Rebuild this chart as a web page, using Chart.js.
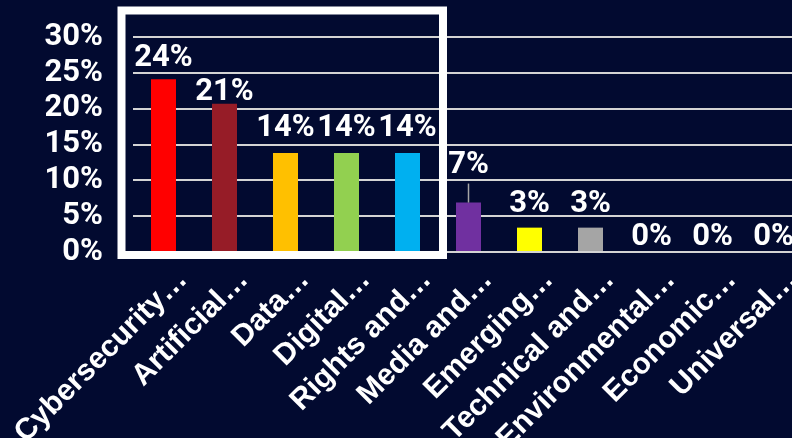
<!DOCTYPE html>
<html>
<head>
<meta charset="utf-8">
<script src="https://cdn.jsdelivr.net/npm/chart.js@4.4.1/dist/chart.umd.min.js"></script>
<style>
  html, body { margin: 0; padding: 0; background: #020a30; overflow: hidden; }
  #wrap { width: 804px; height: 438px; }
</style>
</head>
<body>
<div id="wrap"><canvas id="topicChart" width="804" height="438"></canvas></div>
<script>
// Share of items per topic, in percent.
const topics = [
  'Cybersecurity…', 'Artificial…', 'Data…', 'Digital…', 'Rights and…',
  'Media and…', 'Emerging…', 'Technical and…', 'Environmental…',
  'Economic…', 'Universal…'
];
const shares = [24.1, 20.7, 13.8, 13.8, 13.8, 6.9, 3.4, 3.4, 0, 0, 0];
const barColors = [
  '#ff0000', '#961c27', '#ffc000', '#92d050', '#00b0f0',
  '#7030a0', '#ffff00', '#a5a5a5', '#a5a5a5', '#a5a5a5', '#a5a5a5'
];
const yTickValues = [0, 5, 10, 15, 20, 25, 30];

// Percent labels above the bars, some lifted higher to stay clear of each other.
const valueLabels = {
  id: 'valueLabels',
  afterDatasetsDraw(chart, args, opts) {
    const ctx = chart.ctx;
    const meta = chart.getDatasetMeta(0);
    ctx.save();
    ctx.font = 'bold 31px Roboto';
    ctx.fillStyle = '#ffffff';
    ctx.textAlign = 'center';
    ctx.textBaseline = 'alphabetic';
    meta.data.forEach((bar, i) => {
      const y = bar.y - opts.gaps[i];
      ctx.fillText(Math.round(shares[i]) + '%', bar.x, y);
      if (opts.leaders.includes(i)) {
        ctx.strokeStyle = '#a6a6a6';
        ctx.lineWidth = 1.5;
        ctx.beginPath();
        ctx.moveTo(bar.x, y + 11);
        ctx.lineTo(bar.x, bar.y);
        ctx.stroke();
      }
    });
    ctx.restore();
  }
};

// Slanted topic names under the bars.
const topicLabels = {
  id: 'topicLabels',
  afterDraw(chart, args, opts) {
    const { ctx, scales: { x } } = chart;
    ctx.save();
    ctx.font = 'bold 30px "Liberation Sans"';
    ctx.fillStyle = '#ffffff';
    ctx.textAlign = 'right';
    ctx.textBaseline = 'middle';
    topics.forEach((name, i) => {
      ctx.save();
      ctx.translate(x.getPixelForValue(i) + opts.dx, x.top + opts.dy);
      ctx.rotate(-Math.PI / 4);
      ctx.fillText(name, 0, 0);
      ctx.restore();
    });
    ctx.restore();
  }
};

// White frame round the first five topics.
const highlightBox = {
  id: 'highlightBox',
  afterDatasetsDraw(chart, args, opts) {
    const { ctx, scales: { x, y } } = chart;
    const half = (x.getPixelForValue(1) - x.getPixelForValue(0)) / 2;
    const left = x.getPixelForValue(0) - half - 11.5;
    const right = x.getPixelForValue(opts.last) + half + 5;
    const top = y.getPixelForValue(30) - 26.5;
    const bottom = y.getPixelForValue(0) + 3;
    ctx.save();
    ctx.strokeStyle = '#ffffff';
    ctx.lineWidth = 8;
    ctx.strokeRect(left, top, right - left, bottom - top);
    ctx.restore();
  }
};

new Chart(document.getElementById('topicChart'), {
  type: 'bar',
  data: {
    labels: topics,
    datasets: [{
      data: shares,
      backgroundColor: barColors,
      barPercentage: 0.41,
      categoryPercentage: 1
    }]
  },
  options: {
    responsive: false,
    animation: false,
    layout: { padding: { top: 37, left: 0, right: 0, bottom: 0 } },
    plugins: {
      legend: { display: false },
      tooltip: { enabled: false },
      valueLabels: {
        gaps: [13, 4, 17, 17, 17, 30, 16, 16, 7, 7, 7],
        leaders: [5]
      },
      topicLabels: { dx: 19, dy: 23 },
      highlightBox: { last: 4 }
    },
    scales: {
      x: {
        grid: { display: false },
        border: { display: false },
        ticks: { display: false },
        afterFit(scale) {
          scale.height = 186;
          scale.paddingLeft = 0;
          scale.paddingRight = 0;
        }
      },
      y: {
        min: 0,
        max: 30,
        afterBuildTicks(scale) { scale.ticks = yTickValues.map(v => ({ value: v })); },
        grid: { color: '#d4d4d4', lineWidth: 2, drawTicks: false },
        border: { display: false },
        ticks: {
          color: '#ffffff',
          font: { family: 'Roboto', weight: 'bold', size: 31 },
          padding: 30,
          autoSkip: false,
          callback: v => v + '%'
        },
        afterFit(scale) {
          scale.width = 133;
          scale.paddingTop = 0;
          scale.paddingBottom = 0;
        }
      }
    }
  },
  plugins: [valueLabels, topicLabels, highlightBox]
});
</script>
</body>
</html>
